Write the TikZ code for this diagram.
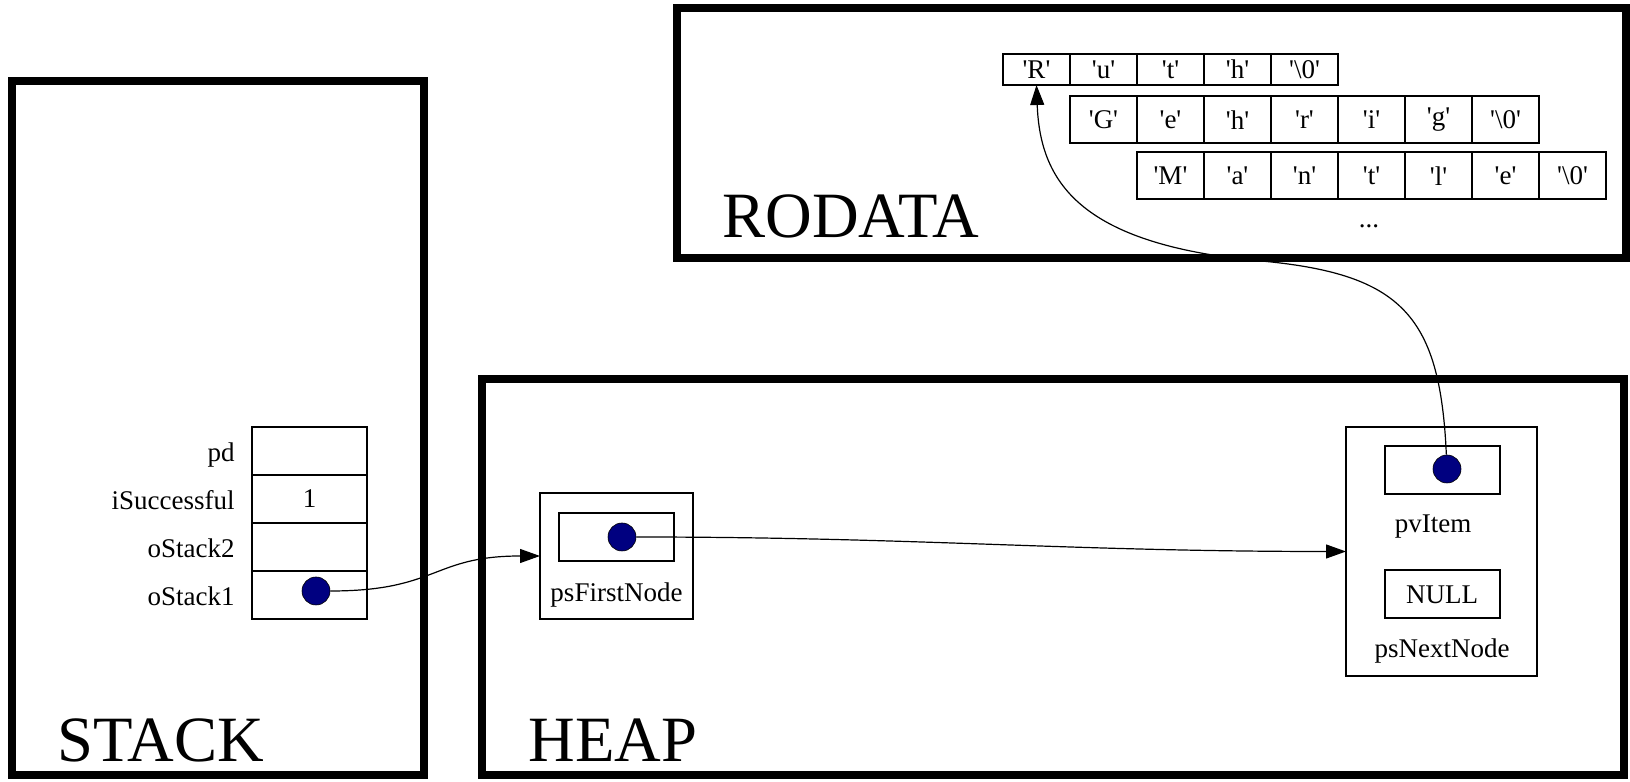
\documentclass[tikz,border=0pt]{standalone}
\usepackage{fontspec}
\setmainfont{Liberation Serif}
\usetikzlibrary{arrows.meta,positioning}

\definecolor{dotblue}{RGB}{0,0,128}
\newcommand{\chq}[1]{\textquotesingle#1\textquotesingle}

\begin{document}
\begin{tikzpicture}[x=0.5pt,y=0.5pt,>={Triangle[length=10pt,width=7pt]},node distance=0pt,
	font=\fontsize{13.5}{16}\selectfont]
	\tikzstyle{region}=[draw,line width=4pt]
	\tikzstyle{title}=[font=\fontsize{32.3}{38}\selectfont,anchor=west,inner sep=0pt]
	\tikzstyle{cell}=[draw,line width=1pt,outer sep=0pt,inner sep=0pt,minimum width=57.5pt,minimum height=24pt]
	\tikzstyle{chr}=[draw,line width=1pt,outer sep=0pt,inner sep=0pt,minimum width=33.5pt,minimum height=23.5pt]
	\tikzstyle{frame}=[draw,line width=0.8pt,outer sep=0pt,inner sep=0pt]
	\tikzstyle{lbl}=[inner sep=0pt,text height=1.6ex,text depth=.4ex]
	\tikzstyle{dot}=[circle,draw,line width=0.3pt,fill=dotblue,minimum size=14pt,inner sep=0pt]
	\tikzstyle{ptr}=[->,line width=0.6pt]

	\useasboundingbox (0,0) rectangle (1630,782);

	% memory regions
	\draw[region] (12,701) rectangle (424,7);
	\draw[region] (482,403) rectangle (1624,7);
	\draw[region] (677,774) rectangle (1626,524);
	\node[title] (stacktitle) at (57,42) {STACK};
	\node[title] (heaptitle) at (528,42) {HEAP};
	\node[title] (rodatatitle) at (722,566) {RODATA};

	% stack frame
	\node[cell] (pd) at (309.5,331) {};
	\node[cell] (isucc) [below=of pd] {1};
	\node[cell] (ostack2) [below=of isucc] {};
	\node[cell] (ostack1) [below=of ostack2] {};
	\node[lbl,yshift=-2.5pt] [left=8.5pt of pd] {pd};
	\node[lbl,yshift=-2.5pt] [left=8.5pt of isucc] {iSuccessful};
	\node[lbl,yshift=-2.5pt] [left=8.5pt of ostack2] {oStack2};
	\node[lbl,yshift=-2.5pt] [left=8.5pt of ostack1] {oStack1};
	\node[dot] (sdot) at (316,191) {};

	% heap nodes
	\node[frame,minimum width=76.5pt,minimum height=63pt] (psfirst) at (616.5,226) {};
	\node[cell] (psfirstval) at (616.5,245) {};
	\node[dot] (pfdot) at (622,245) {};
	\node[lbl] (psfirstlbl) at (616.5,186) {psFirstNode};

	\node[frame,minimum width=95.5pt,minimum height=124.5pt] (node1) at (1441.5,230.5) {};
	\node[cell] (pvitem) at (1442,312) {};
	\node[dot] (pvdot) at (1447,313) {};
	\node[lbl] (pvitemlbl) at (1433,255) {pvItem};
	\node[cell] (psnext) at (1442,187.5) {NULL};
	\node[lbl] (psnextlbl) at (1442,130) {psNextNode};

	% rodata strings
	\foreach \c [count=\i] in {R,u,t,h,\textbackslash 0}
		\node[chr,minimum height=15.5pt] (rod-a-\i) at (1036.5+67*\i-67,712.5) {\chq{\c}};
	\foreach \c [count=\i] in {G,e,h,r,i,g,\textbackslash 0}
		\node[chr] (rod-b-\i) at (1103.5+67*\i-67,662) {\chq{\c}};
	\foreach \c [count=\i] in {M,a,n,t,l,e,\textbackslash 0}
		\node[chr] (rod-c-\i) at (1170.5+67*\i-67,606) {\chq{\c}};
	\node[lbl] (more) at (1369,560) {...};

	% pointers
	\path[ptr] (sdot) edge[out=0,in=180,looseness=1.3] (psfirst);
	\path[ptr] (pfdot) edge[out=0,in=180] (node1);
	\draw[ptr] (pvdot) .. controls (1440,470) and (1400,510) .. (1250,522)
		.. controls (1080,540) and (1040,600) .. (rod-a-1.south);
\end{tikzpicture}
\end{document}
